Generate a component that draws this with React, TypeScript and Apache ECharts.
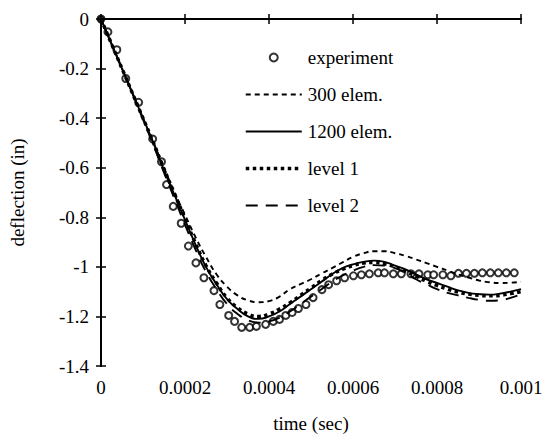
import React, { useEffect, useRef } from "react";
import * as echarts from "echarts";

const expT = [0, 0.0000165, 0.0000377, 0.000059, 0.0000896, 0.000123, 0.000144, 0.000156, 0.000172, 0.000191, 0.000208, 0.000226, 0.000245, 0.000269, 0.000283, 0.000304, 0.000318, 0.000335, 0.000354, 0.00037, 0.000392, 0.00041, 0.000425, 0.00044, 0.000455, 0.00047, 0.000488, 0.000505, 0.000526, 0.000542, 0.000561, 0.00058, 0.000601, 0.00062, 0.000639, 0.00066, 0.000675, 0.000696, 0.000715, 0.000738, 0.000757, 0.000778, 0.000792, 0.000814, 0.000833, 0.000851, 0.00087, 0.000889, 0.000908, 0.000927, 0.000946, 0.000965, 0.000984];
const expD = [0, -0.052, -0.124, -0.24, -0.336, -0.484, -0.576, -0.668, -0.756, -0.824, -0.916, -0.984, -1.044, -1.096, -1.152, -1.196, -1.22, -1.244, -1.244, -1.24, -1.232, -1.22, -1.212, -1.196, -1.184, -1.168, -1.152, -1.124, -1.092, -1.072, -1.056, -1.044, -1.036, -1.032, -1.028, -1.024, -1.024, -1.028, -1.028, -1.028, -1.028, -1.032, -1.032, -1.032, -1.036, -1.026, -1.026, -1.026, -1.024, -1.024, -1.024, -1.024, -1.024];

const simT = [0, 0.000025, 0.00005, 0.000075, 0.0001, 0.000125, 0.00015, 0.000175, 0.0002, 0.000225, 0.00025, 0.000275, 0.0003, 0.000325, 0.00035, 0.000375, 0.0004, 0.000425, 0.00045, 0.000475, 0.0005, 0.000525, 0.00055, 0.000575, 0.0006, 0.000625, 0.00065, 0.000675, 0.0007, 0.000725, 0.00075, 0.000775, 0.0008, 0.000825, 0.00085, 0.000875, 0.0009, 0.000925, 0.00095, 0.000975, 0.001];
const elem300 = [0, -0.10, -0.20, -0.30, -0.40, -0.50, -0.60, -0.70, -0.79, -0.88, -0.96, -1.03, -1.08, -1.115, -1.135, -1.143, -1.138, -1.12, -1.09, -1.07, -1.05, -1.027, -1.005, -0.982, -0.96, -0.945, -0.937, -0.937, -0.945, -0.956, -0.97, -0.985, -1.0, -1.015, -1.03, -1.043, -1.055, -1.062, -1.065, -1.064, -1.06];
const elem1200 = [0, -0.10, -0.20, -0.30, -0.40, -0.50, -0.61, -0.71, -0.81, -0.91, -1.0, -1.07, -1.13, -1.17, -1.2, -1.21, -1.2, -1.18, -1.15, -1.12, -1.09, -1.06, -1.03, -1.005, -0.99, -0.98, -0.975, -0.98, -0.995, -1.01, -1.03, -1.05, -1.065, -1.08, -1.095, -1.105, -1.11, -1.112, -1.108, -1.1, -1.09];
const level1 = [0, -0.10, -0.20, -0.30, -0.40, -0.50, -0.605, -0.705, -0.805, -0.905, -0.995, -1.065, -1.125, -1.165, -1.19, -1.2, -1.19, -1.17, -1.145, -1.115, -1.085, -1.055, -1.03, -1.01, -0.995, -0.985, -0.982, -0.988, -1.0, -1.018, -1.038, -1.058, -1.075, -1.09, -1.102, -1.11, -1.115, -1.117, -1.115, -1.108, -1.1];
const level2 = [0, -0.10, -0.20, -0.30, -0.405, -0.51, -0.62, -0.725, -0.83, -0.93, -1.02, -1.09, -1.15, -1.19, -1.215, -1.225, -1.22, -1.205, -1.18, -1.15, -1.12, -1.09, -1.06, -1.035, -1.015, -1.0, -0.993, -0.995, -1.005, -1.025, -1.05, -1.07, -1.09, -1.105, -1.115, -1.125, -1.133, -1.137, -1.135, -1.125, -1.11];

const seriesNames = ["experiment", "300 elem.", "1200 elem.", "level 1", "level 2"];

const FONT = "Liberation Serif";

const STYLES: Record<string, { width: number; type: any }> = {
  "300 elem.": { width: 1.9, type: [5, 4] },
  "1200 elem.": { width: 1.9, type: "solid" },
  "level 1": { width: 3.5, type: [3.5, 3.5] },
  "level 2": { width: 1.9, type: [12, 8] },
};

export default function App() {
  const ref = useRef<HTMLDivElement>(null);
  useEffect(() => {
    if (!ref.current) return;
    const chart = echarts.init(ref.current, undefined, { renderer: "svg" });
    const zip = (t: number[], d: number[]) => t.map((x, i) => [x, d[i]]);
    const lineSeries = (name: string, d: number[], z: number) => ({
      name,
      type: "line",
      data: zip(simT, d),
      symbol: "none",
      showSymbol: false,
      smooth: true,
      z,
      lineStyle: { color: "#000", width: STYLES[name].width, type: STYLES[name].type, cap: "butt" },
      itemStyle: { color: "#000" },
    });
    const xFmt = (v: number) => String(parseFloat(v.toFixed(4)));
    const yFmt = (v: number) => String(parseFloat(v.toFixed(1)));
    const axisCommon = {
      axisLine: { show: true, lineStyle: { color: "#000", width: 2 } },
      axisTick: { show: true, inside: true, length: 5, lineStyle: { color: "#000", width: 1.5 } },
      splitLine: { show: false },
    };
    chart.setOption({
      animation: false,
      backgroundColor: "#fff",
      grid: { left: 97, right: 26, top: 19, bottom: 69 },
      legend: {
        orient: "vertical",
        left: 239,
        top: 43,
        itemWidth: 56,
        itemHeight: 8,
        itemGap: 18,
        data: seriesNames.map((n, i) =>
          i === 0
            ? { name: n }
            : {
                name: n,
                itemStyle: { opacity: 0 },
                lineStyle: { color: "#000", width: STYLES[n].width, type: STYLES[n].type, cap: "butt" },
              }
        ),
        textStyle: { fontFamily: FONT, fontSize: 19, color: "#000", padding: [0, 0, 0, 1] },
      },
      xAxis: [
        {
          type: "value",
          min: 0,
          max: 0.001,
          interval: 0.0002,
          position: "bottom",
          name: "time (sec)",
          nameLocation: "middle",
          nameGap: 48,
          nameTextStyle: { fontFamily: FONT, fontSize: 19, color: "#000" },
          axisLabel: { formatter: xFmt, fontFamily: FONT, fontSize: 19, color: "#000", margin: 12 },
          ...axisCommon,
        },
        {
          type: "value",
          min: 0,
          max: 0.001,
          interval: 0.0002,
          position: "top",
          axisLabel: { show: false },
          ...axisCommon,
        },
      ],
      yAxis: [
        {
          type: "value",
          min: -1.4,
          max: 0,
          interval: 0.2,
          position: "left",
          name: "deflection (in)",
          nameLocation: "middle",
          nameGap: 74,
          nameTextStyle: { fontFamily: FONT, fontSize: 19, color: "#000" },
          axisLabel: { formatter: yFmt, fontFamily: FONT, fontSize: 19, color: "#000", margin: 12 },
          ...axisCommon,
        },
        {
          type: "value",
          min: -1.4,
          max: 0,
          interval: 0.2,
          position: "right",
          axisLabel: { show: false },
          ...axisCommon,
        },
      ],
      series: [
        {
          name: "experiment",
          type: "scatter",
          z: 2,
          symbol: "emptyCircle",
          symbolSize: 7,
          itemStyle: { color: "#000", borderColor: "#000", borderWidth: 2 },
          data: expT.map((t, i) =>
            i === 0
              ? { value: [t, expD[i]], symbol: "circle", itemStyle: { color: "#000" } }
              : [t, expD[i]]
          ),
        },
        lineSeries("300 elem.", elem300, 3),
        lineSeries("1200 elem.", elem1200, 3),
        lineSeries("level 1", level1, 4),
        lineSeries("level 2", level2, 3),
      ],
    });
    return () => chart.dispose();
  }, []);
  return (
    <div
      ref={ref}
      style={{ position: "fixed", left: 0, top: 0, width: 547, height: 438 }}
    />
  );
}
